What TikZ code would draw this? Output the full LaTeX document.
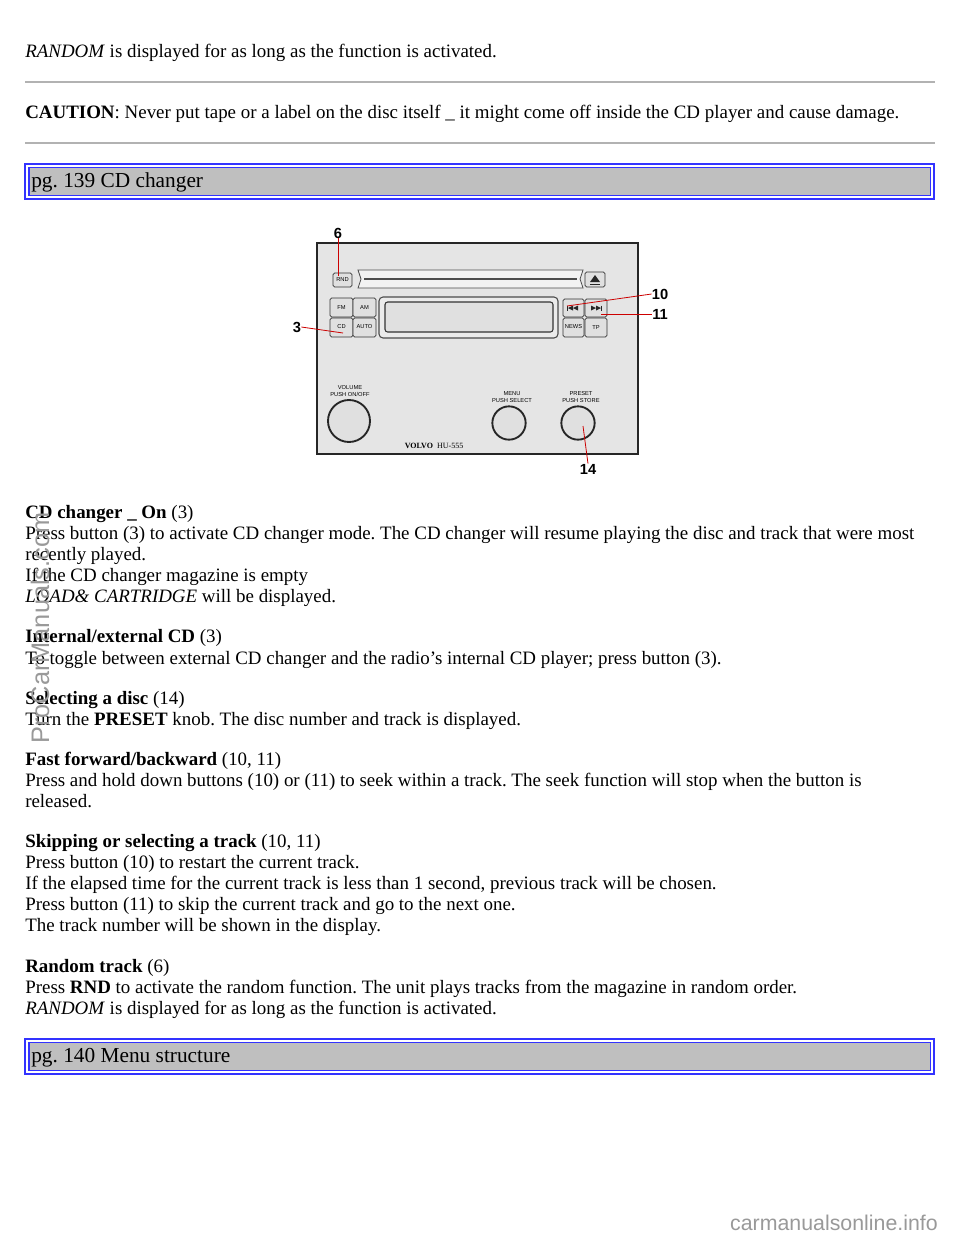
\documentclass[tikz,border=0pt]{standalone}
\usepackage{fontspec}
\setmainfont{Liberation Serif}
\newfontfamily\wmfont{Liberation Sans}
\begin{document}
\frenchspacing
\begin{tikzpicture}[x=0.75pt,y=-0.75pt,
  txt/.style={anchor=base west,inner sep=0,font=\fontsize{14.2}{16}\selectfont},
  hdr/.style={anchor=base west,inner sep=0,font=\fontsize{16}{18}\selectfont},
  btn/.style={draw=black!80,fill=black!12,rounded corners=1.2pt,line width=0.6pt},
  blab/.style={inner sep=0,font=\wmfont\fontsize{4.3}{4.8}\selectfont},
  knob/.style={draw=black!85,line width=1.4pt,fill=black!12},
  callout/.style={draw=red!80!black,line width=0.6pt},
  num/.style={inner sep=0,font=\wmfont\bfseries\fontsize{11}{12}\selectfont},
  sep/.style={draw=black!30,line width=1pt},
  tri/.style={fill=black!85}]
\useasboundingbox (0,0) rectangle (960,1242);
\fill[white] (0,0) rectangle (960,1242);
\node[txt] (t1) at (25,57) {\textit{RANDOM} is displayed for as long as the function is activated.};
\draw[sep] (25,82) -- (935,82);
\node[txt] (t2) at (25,118) {\textbf{CAUTION}: Never put tape or a label on the disc itself \_ it might come off inside the CD player and cause damage.};
\draw[sep] (25,143) -- (935,143);
% header 1
\draw[blue!80,line width=1pt] (25,164) rectangle (934,199);
\draw[blue!80,line width=1pt,fill=black!25] (29,167.5) rectangle (930.5,195.5);
\node[hdr] (h1) at (31,187) {pg. 139 CD changer};
% radio
\draw[fill=black!10,draw=black!85,line width=1.2pt] (317,243) rectangle (638,454);
\draw[btn] (333,273) rectangle (352,287);
\node[blab] (rnd) at (342.5,280) {RND};
\draw[draw=black!70,line width=0.6pt,fill=black!5] (358,270) -- (583,270) -- (580,279) -- (583,288) -- (358,288) -- (361,279) -- cycle;
\draw[black!70,line width=0.8pt] (364,279) -- (577,279);
\draw[btn] (585,272) rectangle (605,287);
\fill[black!85] (590,282) -- (600,282) -- (595,275) -- cycle;
\draw[black!85,line width=0.8pt] (590,284.5) -- (600,284.5);
\draw[btn] (330,298) rectangle (353,317); \node[blab] at (341.5,308) {FM};
\draw[btn] (353,298) rectangle (376,317); \node[blab] at (364.5,308) {AM};
\draw[btn] (330,318) rectangle (353,337); \node[blab] at (341.5,327) {CD};
\draw[btn] (353,318) rectangle (376,337); \node[blab] at (364.5,327) {AUTO};
\draw[draw=black!70,fill=black!8,rounded corners=3pt,line width=0.8pt] (379,297) rectangle (558,338);
\draw[draw=black!80,fill=black!12,rounded corners=2pt,line width=0.8pt] (385,302) rectangle (553,332);
\draw[btn] (563,299) rectangle (584,317);
\draw[black!85,line width=0.7pt] (567.5,305.5) -- (567.5,310.5);
\fill[tri] (568,308) -- (573,305.5) -- (573,310.5) -- cycle;
\fill[tri] (573,308) -- (578,305.5) -- (578,310.5) -- cycle;
\draw[btn] (585,299) rectangle (607,317);
\fill[tri] (601,308) -- (596,305.5) -- (596,310.5) -- cycle;
\fill[tri] (596,308) -- (591,305.5) -- (591,310.5) -- cycle;
\draw[black!85,line width=0.7pt] (601.5,305.5) -- (601.5,310.5);
\draw[btn] (563,318) rectangle (584,337); \node[blab] at (573.5,327) {NEWS};
\draw[btn] (585,318) rectangle (607,337); \node[blab] at (596,328) {TP};
\node[blab,align=center] at (350,391) {VOLUME\\PUSH ON/OFF};
\node[blab,align=center] at (512,397) {MENU\\PUSH SELECT};
\node[blab,align=center] at (581,397) {PRESET\\PUSH STORE};
\node[knob,circle,minimum size=31.5pt] (vol) at (349,421) {};
\node[knob,circle,minimum size=25pt] (menu) at (509,423) {};
\node[knob,circle,minimum size=25pt] (preset) at (578,423) {};
\node[inner sep=0,font=\fontsize{6}{7}\selectfont] at (434,446) {\textbf{VOLVO}\ \ HU-555};
% callouts
\node[num] (n6) at (338,233) {6};
\node[num] (n3) at (297,327) {3};
\node[num] (n10) at (660,294) {10};
\node[num] (n11) at (660,314) {11};
\node[num] (n14) at (588,469) {14};
\coordinate (c6) at (338,276);
\coordinate (c3) at (343,333);
\coordinate (c10) at (567,306);
\coordinate (c11) at (601,314);
\coordinate (c14) at (583,426);
\draw[callout] (n6.south) -- (c6);
\draw[callout] (n3.east) -- (c3);
\draw[callout] (n10.west) -- (c10);
\draw[callout] (n11.west) -- (c11);
\draw[callout] (n14.north) -- (c14);
% body
\node[txt] at (25,518) {\textbf{CD changer \_ On} (3)};
\node[txt] at (25,539) {Press button (3) to activate CD changer mode. The CD changer will resume playing the disc and track that were most};
\node[txt] at (25,560) {recently played.};
\node[txt] at (25,581) {If the CD changer magazine is empty};
\node[txt] at (25,602) {\textit{LOAD\& CARTRIDGE} will be displayed.};
\node[txt] at (25,642) {\textbf{Internal/external CD} (3)};
\node[txt] at (25,664) {To toggle between external CD changer and the radio's internal CD player; press button (3).};
\node[txt] at (25,704) {\textbf{Selecting a disc} (14)};
\node[txt] at (25,725) {Turn the \textbf{PRESET} knob. The disc number and track is displayed.};
\node[txt] at (25,765) {\textbf{Fast forward/backward} (10, 11)};
\node[txt] at (25,786) {Press and hold down buttons (10) or (11) to seek within a track. The seek function will stop when the button is};
\node[txt] at (25,807) {released.};
\node[txt] at (25,847) {\textbf{Skipping or selecting a track} (10, 11)};
\node[txt] at (25,868) {Press button (10) to restart the current track.};
\node[txt] at (25,889) {If the elapsed time for the current track is less than 1 second, previous track will be chosen.};
\node[txt] at (25,910) {Press button (11) to skip the current track and go to the next one.};
\node[txt] at (25,931) {The track number will be shown in the display.};
\node[txt] at (25,972) {\textbf{Random track} (6)};
\node[txt] at (25,993) {Press \textbf{RND} to activate the random function. The unit plays tracks from the magazine in random order.};
\node[txt] at (25,1014) {\textit{RANDOM} is displayed for as long as the function is activated.};
% header 2
\draw[blue!80,line width=1pt] (25,1039) rectangle (934,1074);
\draw[blue!80,line width=1pt,fill=black!25] (29,1042.5) rectangle (930.5,1070.5);
\node[hdr] (h2) at (31,1062) {pg. 140 Menu structure};
% watermarks
\node[inner sep=0,rotate=90,text=black!40,font=\wmfont\fontsize{19}{20}\selectfont] at (40,628) {ProCarManuals.com};
\node[inner sep=0,anchor=base east,text=black!40,font=\wmfont\fontsize{16}{18}\selectfont] at (938,1230) {carmanualsonline.info};
\end{tikzpicture}
\end{document}
